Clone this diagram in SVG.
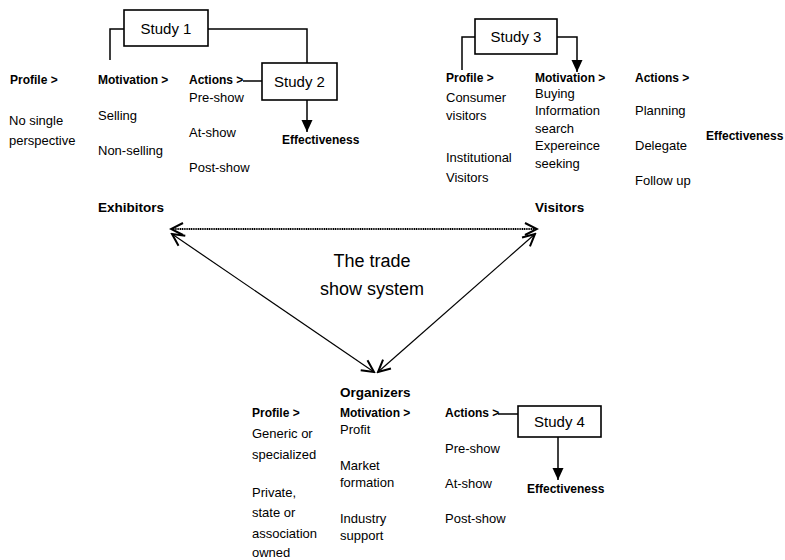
<svg xmlns="http://www.w3.org/2000/svg" width="785" height="560" viewBox="0 0 785 560">
<style>
text{font-family:"Liberation Sans",Arial,sans-serif;fill:#000}
.r{font-size:13px}
.b{font-size:12px;font-weight:bold}
.h{font-size:13.5px;font-weight:bold}
.s{font-size:15px}
.c{font-size:18px}
.box{fill:#fff;stroke:#000;stroke-width:1.6}
.ln{fill:none;stroke:#000;stroke-width:1.5}
.tri{fill:none;stroke:#000;stroke-width:1.2}
</style>
<defs>
<marker id="fa" markerUnits="userSpaceOnUse" markerWidth="14" markerHeight="14" viewBox="0 0 14 14" refX="13" refY="7" orient="auto">
<path d="M1,1.5 L13,7 L1,12.5 Z" fill="#000"/>
</marker>
<marker id="va" markerUnits="userSpaceOnUse" markerWidth="16" markerHeight="16" viewBox="0 0 16 16" refX="14" refY="8" orient="auto-start-reverse">
<path d="M2,2 L14,8 L2,14" fill="none" stroke="#000" stroke-width="2"/>
</marker>
</defs>
<g id="connectors">
<polyline class="ln" points="124,29 110,29 110,60"/>
<polyline class="ln" points="208,29 307,29 307,63"/>
<line class="ln" x1="243" y1="81" x2="262" y2="81"/>
<line class="ln" x1="307" y1="100" x2="307" y2="132" marker-end="url(#fa)"/>
<polyline class="ln" points="475,37 462,37 462,70"/>
<polyline class="ln" points="557,37 577,37 577,72" marker-end="url(#fa)"/>
<line class="ln" x1="498" y1="414" x2="518" y2="414"/>
<line class="ln" x1="558" y1="437" x2="558" y2="480" marker-end="url(#fa)"/>
<line x1="171" y1="229" x2="537" y2="229" stroke="#000" stroke-width="1.8" stroke-dasharray="1.2 0.6" marker-start="url(#va)" marker-end="url(#va)"/>
<line class="tri" x1="172" y1="234" x2="374" y2="372" marker-start="url(#va)" marker-end="url(#va)"/>
<line class="tri" x1="535" y1="234" x2="378" y2="372" marker-start="url(#va)" marker-end="url(#va)"/>
</g>
<g id="study1">
<rect class="box" x="124" y="10" width="84" height="36"/>
<text class="s" x="166" y="34" text-anchor="middle">Study 1</text>
</g>
<g id="study2">
<rect class="box" x="262" y="63" width="75" height="37"/>
<text class="s" x="299.5" y="87" text-anchor="middle">Study 2</text>
</g>
<g id="study3">
<rect class="box" x="475" y="19" width="82" height="35"/>
<text class="s" x="516" y="42" text-anchor="middle">Study 3</text>
</g>
<g id="study4">
<rect class="box" x="518" y="406" width="83" height="31"/>
<text class="s" x="559.5" y="427" text-anchor="middle">Study 4</text>
</g>
<g id="exhibitors">
<text class="h" x="98" y="212">Exhibitors</text>
<text class="b" x="10" y="84">Profile &gt;</text>
<text class="r" x="9" y="125">No single</text>
<text class="r" x="9" y="145">perspective</text>
<text class="b" x="98" y="84">Motivation &gt;</text>
<text class="r" x="98" y="120">Selling</text>
<text class="r" x="98" y="155">Non-selling</text>
<text class="b" x="189" y="84">Actions &gt;</text>
<text class="r" x="189" y="102">Pre-show</text>
<text class="r" x="189" y="137">At-show</text>
<text class="r" x="189" y="172">Post-show</text>
<text class="b" x="282" y="144">Effectiveness</text>
</g>
<g id="visitors">
<text class="h" x="535" y="212">Visitors</text>
<text class="b" x="446" y="82">Profile &gt;</text>
<text class="r" x="446" y="102">Consumer</text>
<text class="r" x="446" y="120">visitors</text>
<text class="r" x="446" y="162">Institutional</text>
<text class="r" x="446" y="182">Visitors</text>
<text class="b" x="535" y="82">Motivation &gt;</text>
<text class="r" x="535" y="98">Buying</text>
<text class="r" x="535" y="115">Information</text>
<text class="r" x="535" y="133">search</text>
<text class="r" x="535" y="150">Expereince</text>
<text class="r" x="535" y="168">seeking</text>
<text class="b" x="635" y="82">Actions &gt;</text>
<text class="r" x="635" y="115">Planning</text>
<text class="r" x="635" y="150">Delegate</text>
<text class="r" x="635" y="185">Follow up</text>
<text class="b" x="706" y="140">Effectiveness</text>
</g>
<g id="center">
<text class="c" x="372" y="267" text-anchor="middle">The trade</text>
<text class="c" x="372" y="295" text-anchor="middle">show system</text>
</g>
<g id="organizers">
<text class="h" x="340" y="397">Organizers</text>
<text class="b" x="252" y="417">Profile &gt;</text>
<text class="r" x="252" y="438">Generic or</text>
<text class="r" x="252" y="459">specialized</text>
<text class="r" x="252" y="497">Private,</text>
<text class="r" x="252" y="517">state or</text>
<text class="r" x="252" y="538">association</text>
<text class="r" x="252" y="557">owned</text>
<text class="b" x="340" y="417">Motivation &gt;</text>
<text class="r" x="340" y="434">Profit</text>
<text class="r" x="340" y="470">Market</text>
<text class="r" x="340" y="487">formation</text>
<text class="r" x="340" y="523">Industry</text>
<text class="r" x="340" y="540">support</text>
<text class="b" x="445" y="417">Actions &gt;</text>
<text class="r" x="445" y="453">Pre-show</text>
<text class="r" x="445" y="488">At-show</text>
<text class="r" x="445" y="523">Post-show</text>
<text class="b" x="527" y="493">Effectiveness</text>
</g>
</svg>
